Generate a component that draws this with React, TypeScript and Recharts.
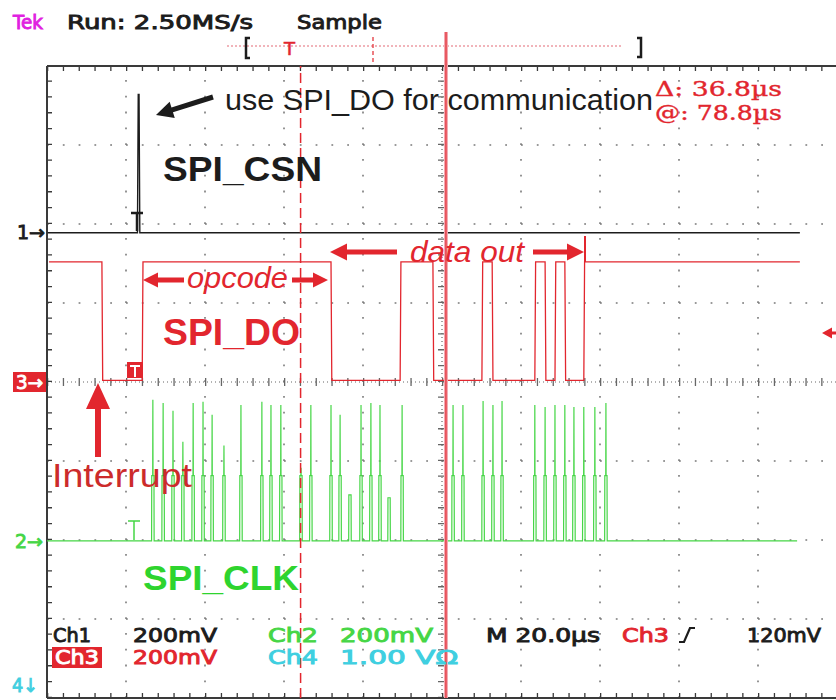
import { ComposedChart, Line, XAxis, YAxis, ReferenceLine } from 'recharts'

// scope settings: 10 x 20 µs horizontally, 8 div vertically, all channels 200 mV/div
const MV_PER_DIV = 200
const timeDomainUs: [number, number] = [0, 200]
const divDomain: [number, number] = [-4, 4]
const timeGridUs = [20, 40, 60, 80, 120, 140, 160, 180]
const divGrid = [-3, -2, -1, 1, 2, 3]
const centerUs = 100

// channel ground positions, in divisions from screen center
const ch1PosDiv = 1.89
const ch2PosDiv = -2.01
const ch3PosDiv = 0

// Ch1 SPI_CSN
const csnSpanUs = [0.2, 190.6]
const csnEdgesUs = [22.9, 23.3]
const csnHighMv = 350

// Ch3 SPI_DO (starts high, toggles at each edge)
const doSpanUs = [0.5, 190.6]
const doEdgesUs = [13.9, 24.1, 71.9, 89.4, 97.7, 110.1, 112.7, 123.5, 126.1, 128.6, 131.1, 135.9]
const doHighMv = 304
const doLowMv = 4

// Ch2 SPI_CLK pulses
const clkSpanUs = [0, 189.9]
const clkPulseUs = [
  26.8, 29.4, 31.9, 34.4, 37.0, 39.5, 41.8, 44.8, 49.1, 54.4, 56.7, 59.2, 64.3, 66.8, 71.9, 74.2, 76.7, 79.5,
  82.0, 84.3, 86.6, 89.9, 102.8, 105.3, 110.4, 112.9, 115.2, 123.5, 126.1, 128.6, 131.1, 133.4, 135.9, 138.7,
  141.5,
]
const clkPeakMv = [
  357, 349, 329, 251, 349, 352, 319, 241, 344, 352, 344, 344, 185, 344, 344, 319, 116, 344, 349, 344, 109, 344,
  344, 344, 354, 344, 354, 344, 339, 344, 344, 339, 339, 339, 349,
]

// cursors (Δ 36.8 µs)
const cursor1Us = 64.2
const cursor2Us = 101.0

const RED = '#e2262e'
const GREEN = '#46d646'
const CYAN = '#3fcfe0'
const BLACK = '#1c1c1c'

type Pt = { t: number; v: number }
const lvl = (mv: number, pos: number) => pos + mv / MV_PER_DIV

function stepTrace(span: number[], edges: number[], startHigh: boolean, hi: number, lo: number, pos: number): Pt[] {
  let high = startHigh
  const pts: Pt[] = [{ t: span[0], v: lvl(high ? hi : lo, pos) }]
  edges.forEach((e) => {
    pts.push({ t: e, v: lvl(high ? hi : lo, pos) })
    high = !high
    pts.push({ t: e + 0.2, v: lvl(high ? hi : lo, pos) })
  })
  pts.push({ t: span[1], v: lvl(high ? hi : lo, pos) })
  return pts
}

function pulseTrace(span: number[], centers: number[], peaks: number[], pos: number): Pt[] {
  const pts: Pt[] = [{ t: span[0], v: pos }]
  centers.forEach((c, i) => {
    const pk = peaks[i]
    const sh = Math.min(pk, 165)
    pts.push(
      { t: c - 0.32, v: pos },
      { t: c - 0.28, v: lvl(sh, pos) },
      { t: c - 0.04, v: lvl(sh, pos) },
      { t: c, v: lvl(pk, pos) },
      { t: c + 0.04, v: lvl(sh, pos) },
      { t: c + 0.28, v: lvl(sh, pos) },
      { t: c + 0.32, v: pos },
    )
  })
  pts.push({ t: span[1], v: pos })
  return pts
}

const csnData = stepTrace(csnSpanUs, csnEdgesUs, false, csnHighMv, 0, ch1PosDiv)
const doData = stepTrace(doSpanUs, doEdgesUs, true, doHighMv, doLowMv, ch3PosDiv)
const clkData = pulseTrace(clkSpanUs, clkPulseUs, clkPeakMv, ch2PosDiv)

function Arrow({ from, to, w, head, hw, color }: { from: number[]; to: number[]; w: number; head: number; hw: number; color: string }) {
  const [x1, y1] = from
  const [x2, y2] = to
  const len = Math.hypot(x2 - x1, y2 - y1)
  const ux = (x2 - x1) / len
  const uy = (y2 - y1) / len
  const px = -uy
  const py = ux
  const bx = x2 - ux * head
  const by = y2 - uy * head
  const pts = [
    [x1 + (px * w) / 2, y1 + (py * w) / 2],
    [bx + (px * w) / 2, by + (py * w) / 2],
    [bx + (px * hw) / 2, by + (py * hw) / 2],
    [x2, y2],
    [bx - (px * hw) / 2, by - (py * hw) / 2],
    [bx - (px * w) / 2, by - (py * w) / 2],
    [x1 - (px * w) / 2, y1 - (py * w) / 2],
  ]
  return <polygon points={pts.map((p) => p.join(',')).join(' ')} fill={color} />
}

const scopeFont = { fontFamily: 'DejaVu Sans', fontSize: 19, strokeWidth: 0.9 }
const noteFont = { fontFamily: 'Liberation Sans' }

function ScopeText({ x, y, w, fill, children }: { x: number; y: number; w: number; fill: string; children: string }) {
  return (
    <text x={x} y={y} textLength={w} lengthAdjust="spacingAndGlyphs" fill={fill} stroke={fill} {...scopeFont}>
      {children}
    </text>
  )
}

function Overlay() {
  return (
    <svg width={836} height={700} style={{ position: 'absolute', left: 0, top: 0, pointerEvents: 'none' }}>
      {/* header */}
      <ScopeText x={13} y={29} w={30} fill="#e020e0">Tek</ScopeText>
      <ScopeText x={67} y={29} w={186} fill={BLACK}>Run: 2.50MS/s</ScopeText>
      <ScopeText x={297} y={29} w={85} fill={BLACK}>Sample</ScopeText>

      {/* record bar */}
      <line x1={227} y1={46} x2={622} y2={46} stroke="#e46a76" strokeWidth={1.2} strokeDasharray="2 2" />
      <path d="M250,38 L246,38 L246,58 L250,58" stroke={BLACK} strokeWidth={2.5} fill="none" />
      <path d="M637,38 L641,38 L641,57 L637,57" stroke={BLACK} strokeWidth={2.5} fill="none" />
      <text x={284} y={55} fill={RED} stroke={RED} strokeWidth={0.6} fontSize={18} fontFamily="DejaVu Sans">T</text>
      <line x1={373} y1={37} x2={373} y2={64} stroke={RED} strokeWidth={1.2} strokeDasharray="4 3" />
      <line x1={446} y1={32} x2={446} y2={66} stroke="#f2a8b0" strokeWidth={4} />
      <line x1={446} y1={32} x2={446} y2={66} stroke={RED} strokeWidth={1.2} />

      {/* readouts */}
      <text x={655} y={96} textLength={127} lengthAdjust="spacingAndGlyphs" fill={RED} stroke={RED} strokeWidth={0.4} fontSize={20} fontFamily="DejaVu Serif">Δ: 36.8µs</text>
      <text x={655} y={120} textLength={127} lengthAdjust="spacingAndGlyphs" fill={RED} stroke={RED} strokeWidth={0.4} fontSize={20} fontFamily="DejaVu Serif">@: 78.8µs</text>

      {/* annotations */}
      <text x={225} y={110} textLength={428} lengthAdjust="spacingAndGlyphs" fill={BLACK} fontSize={30} {...noteFont}>use SPI_DO for communication</text>
      <Arrow from={[213, 97]} to={[156, 115]} w={5} head={17} hw={17} color={BLACK} />
      <text x={163} y={181} textLength={159} lengthAdjust="spacingAndGlyphs" fill={BLACK} fontSize={35} fontWeight="bold" {...noteFont}>SPI_CSN</text>

      <text x={187} y={288} textLength={101} lengthAdjust="spacingAndGlyphs" fill={RED} fontSize={30} fontStyle="italic" {...noteFont}>opcode</text>
      <Arrow from={[184, 280]} to={[143, 280]} w={5} head={15} hw={15} color={RED} />
      <Arrow from={[292, 280]} to={[328, 280]} w={5} head={15} hw={15} color={RED} />
      <text x={163} y={345} textLength={137} lengthAdjust="spacingAndGlyphs" fill={RED} fontSize={36} fontWeight="bold" {...noteFont}>SPI_DO</text>

      <text x={410} y={262} textLength={114} lengthAdjust="spacingAndGlyphs" fill={RED} fontSize={30} fontStyle="italic" {...noteFont}>data out</text>
      <Arrow from={[397, 252]} to={[330, 252]} w={5} head={17} hw={17} color={RED} />
      <Arrow from={[533, 252]} to={[584, 252]} w={5} head={17} hw={17} color={RED} />
      <line x1={585} y1={236} x2={585} y2={262} stroke={RED} strokeWidth={2} />
      <Arrow from={[836, 333]} to={[822, 333]} w={3} head={10} hw={11} color={RED} />

      <Arrow from={[98, 457]} to={[98, 383]} w={6} head={26} hw={24} color={RED} />
      <text x={52} y={487} textLength={140} lengthAdjust="spacingAndGlyphs" fill="#cc2b2b" fontSize={34} {...noteFont}>Interrupt</text>

      <text x={143} y={590} textLength={156} lengthAdjust="spacingAndGlyphs" fill="#2ed42e" fontSize={35} fontWeight="bold" {...noteFont}>SPI_CLK</text>

      {/* trigger markers on traces */}
      <path d="M131,213 L143,213 M137,213 L137,231" stroke={BLACK} strokeWidth={2.5} />
      <rect x={127} y={362} width={16} height={16} fill={RED} />
      <path d="M130,366 L140,366 M135,366 L135,377" stroke="#fff" strokeWidth={2} />
      <path d="M128,521 L140,521 M134,521 L134,540" stroke={GREEN} strokeWidth={1.5} />

      {/* channel ground markers */}
      <ScopeText x={17} y={239} w={28} fill={BLACK}>1→</ScopeText>
      <rect x={13} y={372} width={33} height={20} fill={RED} />
      <ScopeText x={16} y={389} w={27} fill="#ffffff">3→</ScopeText>
      <ScopeText x={15} y={548} w={28} fill={GREEN}>2→</ScopeText>
      <ScopeText x={12} y={692} w={26} fill={CYAN}>4↓</ScopeText>

      {/* bottom status */}
      <ScopeText x={53} y={642} w={38} fill={BLACK}>Ch1</ScopeText>
      <ScopeText x={133} y={642} w={84} fill={BLACK}>200mV</ScopeText>
      <ScopeText x={268} y={642} w={50} fill={GREEN}>Ch2</ScopeText>
      <ScopeText x={340} y={642} w={93} fill={GREEN}>200mV</ScopeText>
      <ScopeText x={486} y={642} w={114} fill={BLACK}>M 20.0µs</ScopeText>
      <ScopeText x={622} y={642} w={47} fill={RED}>Ch3</ScopeText>
      <path d="M679,642 L684,642 L690,628 L695,628" stroke={BLACK} strokeWidth={2.2} fill="none" />
      <ScopeText x={747} y={642} w={74} fill={BLACK}>120mV</ScopeText>

      <rect x={52} y={647} width={50} height={21} fill={RED} />
      <ScopeText x={55} y={664} w={44} fill="#ffffff">Ch3</ScopeText>
      <ScopeText x={133} y={664} w={84} fill={RED}>200mV</ScopeText>
      <ScopeText x={268} y={664} w={50} fill={CYAN}>Ch4</ScopeText>
      <ScopeText x={340} y={664} w={118} fill={CYAN}>1.00 VΩ</ScopeText>
    </svg>
  )
}

export default function App() {
  const insetDiv = 2.5 / 79
  const insetUs = (2.5 / 79) * 20
  return (
    <div style={{ position: 'absolute', left: 0, top: 0, width: 836, height: 700, overflow: 'hidden', background: '#fff' }}>
      <ComposedChart width={846} height={700} margin={{ top: 66, right: 9, bottom: 2, left: 47 }}>
        <XAxis type="number" dataKey="t" domain={timeDomainUs} allowDataOverflow hide />
        <YAxis type="number" domain={divDomain} allowDataOverflow hide />

        {timeGridUs.map((t) => (
          <ReferenceLine key={'gx' + t} x={t} stroke="#7a7a7a" strokeWidth={1.6} strokeDasharray="1.8 14" />
        ))}
        {divGrid.map((d) => (
          <ReferenceLine key={'gy' + d} y={d} stroke="#7a7a7a" strokeWidth={1.6} strokeDasharray="1.8 14" />
        ))}
        {/* center cross with minor ticks */}
        <ReferenceLine x={centerUs} stroke="#666" strokeWidth={1.2} strokeDasharray="1 3" />
        <ReferenceLine x={centerUs} stroke="#666" strokeWidth={8} strokeDasharray="1.3 14.5" />
        <ReferenceLine y={0} stroke="#666" strokeWidth={1.2} strokeDasharray="1 3" />
        <ReferenceLine y={0} stroke="#666" strokeWidth={8} strokeDasharray="1.3 14.5" />
        {/* frame */}
        <ReferenceLine y={4} stroke="#3a3a3a" strokeWidth={2} />
        <ReferenceLine y={4 - insetDiv} stroke="#3a3a3a" strokeWidth={5} strokeDasharray="1.3 14.5" />
        <ReferenceLine y={-4} stroke="#3a3a3a" strokeWidth={2} />
        <ReferenceLine y={-4 + insetDiv} stroke="#3a3a3a" strokeWidth={5} strokeDasharray="1.3 14.5" />
        <ReferenceLine x={0} stroke="#3a3a3a" strokeWidth={2} />
        <ReferenceLine x={insetUs} stroke="#3a3a3a" strokeWidth={5} strokeDasharray="1.3 14.5" />

        <Line data={clkData} dataKey="v" type="linear" dot={false} stroke={GREEN} strokeWidth={1.2} isAnimationActive={false} />
        <Line data={doData} dataKey="v" type="linear" dot={false} stroke={RED} strokeWidth={1.3} isAnimationActive={false} />
        <Line data={csnData} dataKey="v" type="linear" dot={false} stroke={BLACK} strokeWidth={1.4} isAnimationActive={false} />

        {/* cursors */}
        <ReferenceLine x={cursor1Us} stroke={RED} strokeWidth={1.5} strokeDasharray="10 5" />
        <ReferenceLine x={cursor2Us} stroke="#f2a8b0" strokeWidth={4} />
        <ReferenceLine x={cursor2Us} stroke={RED} strokeWidth={1.2} />
      </ComposedChart>
      <Overlay />
    </div>
  )
}
